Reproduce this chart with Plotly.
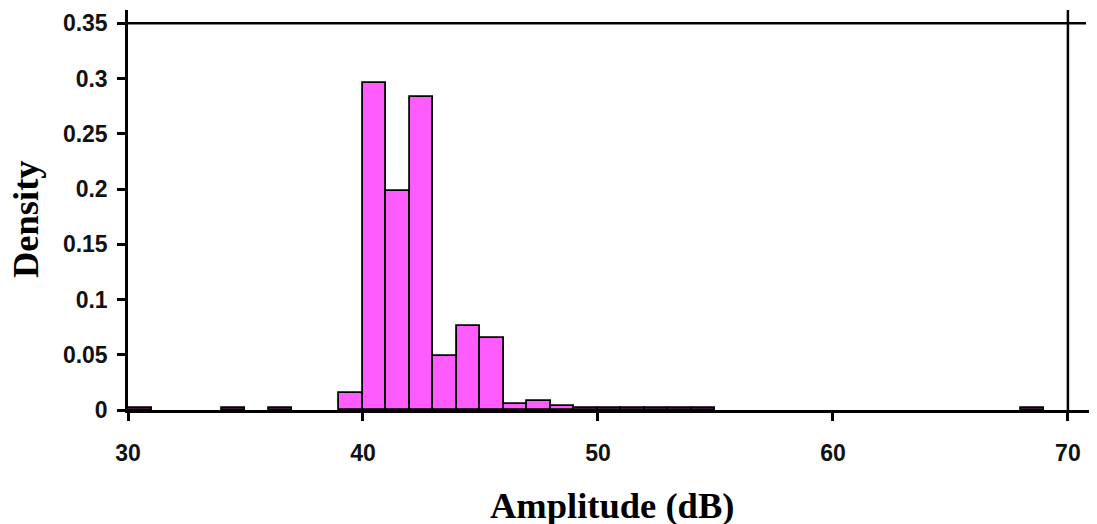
import plotly.graph_objects as go

# Histogram data: bin left edges (dB), bin width 1 dB, densities
bin_start = [30, 34, 36, 39, 40, 41, 42, 43, 44, 45, 46, 47, 48,
             49, 50, 51, 52, 53, 54, 68]
density = [0.0018, 0.0018, 0.0018, 0.015, 0.296, 0.198, 0.283, 0.049, 0.076,
           0.065, 0.005, 0.008, 0.0035,
           0.0015, 0.0015, 0.0015, 0.0015, 0.0015, 0.0015, 0.0018]
bin_width = 1

x_ticks = [30, 40, 50, 60, 70]
y_ticks = [0, 0.05, 0.1, 0.15, 0.2, 0.25, 0.3, 0.35]
y_tick_text = ["0", "0.05", "0.1", "0.15", "0.2", "0.25", "0.3", "0.35"]

fig = go.Figure()
fig.add_trace(go.Bar(
    x=bin_start,
    y=density,
    width=[bin_width] * len(bin_start),
    offset=0,
    marker=dict(color="#FF5CFF", line=dict(color="black", width=1.8)),
    showlegend=False,
))

tickfont = dict(family="Liberation Sans, Arial, sans-serif", size=23,
                color="#111111", weight="bold")
titlefont = dict(family="Liberation Serif, Times New Roman, serif", size=36.5,
                 color="black", weight="bold")

fig.update_layout(
    width=1089, height=516,
    margin=dict(l=120, r=7, t=2, b=114),
    paper_bgcolor="white", plot_bgcolor="white",
    bargap=0,
    xaxis=dict(
        range=[30, 70.94], tickvals=x_ticks, ticktext=[str(v) for v in x_ticks],
        showline=True, linecolor="black", linewidth=2.5,
        ticks="outside", ticklen=8, tickwidth=2.5, tickcolor="black",
        showgrid=False, zeroline=False, tickfont=tickfont,
        ticklabelstandoff=13,
    ),
    yaxis=dict(
        range=[0, 0.362], tickvals=y_ticks, ticktext=y_tick_text,
        showline=True, linecolor="black", linewidth=2.5,
        ticks="outside", ticklen=8, tickwidth=2.5, tickcolor="black",
        showgrid=False, zeroline=False, tickfont=tickfont,
        ticklabelstandoff=5,
    ),
    shapes=[
        dict(type="line", xref="x", yref="y", x0=30, x1=70.77, y0=0.35, y1=0.35,
             line=dict(color="black", width=2.5)),
        dict(type="line", xref="x", yref="y", x0=70, x1=70, y0=0, y1=0.362,
             line=dict(color="black", width=2.5)),
    ],
    annotations=[
        dict(text="Density", xref="paper", yref="paper", x=-0.107, y=0.4775,
             xanchor="center", yanchor="middle", textangle=-90, showarrow=False,
             font=titlefont),
        dict(text="Amplitude (dB)", xref="paper", yref="paper", x=0.503, y=-0.2375,
             xanchor="center", yanchor="middle", showarrow=False,
             font=titlefont),
    ],
)

fig.write_html("out.html")
